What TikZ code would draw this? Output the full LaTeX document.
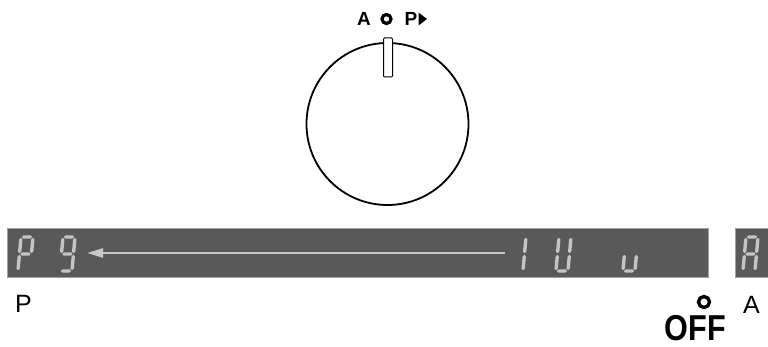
\documentclass[tikz,border=0pt]{standalone}
\usepackage{fontspec}
\setmainfont{Liberation Sans}
\usetikzlibrary{arrows.meta, positioning}
\definecolor{panelgray}{HTML}{595959}
\definecolor{seggray}{HTML}{C4C4C4}
\definecolor{arrowgray}{HTML}{C8C8C8}
% one slanted segment of a seven-segment digit
\newcommand{\hseg}[3]{\fill[segment] (#1,#3) -- (#1+1.7,#3-1.7) -- (#2-1.7,#3-1.7) -- (#2,#3) -- (#2-1.7,#3+1.7) -- (#1+1.7,#3+1.7) -- cycle;}
\newcommand{\vseg}[3]{\fill[segment] (#1,#2) -- (#1+1.7,#2+1.7) -- (#1+1.7,#3-1.7) -- (#1,#3) -- (#1-1.7,#3-1.7) -- (#1-1.7,#2+1.7) -- cycle;}
\newcommand{\sga}{\hseg{0.8}{11.2}{0}}
\newcommand{\sgb}{\vseg{12}{0.8}{16.2}}
\newcommand{\sgc}{\vseg{12}{17.8}{33.2}}
\newcommand{\sgd}{\hseg{0.8}{11.2}{34}}
\newcommand{\sge}{\vseg{0}{17.8}{33.2}}
\newcommand{\sgf}{\vseg{0}{0.8}{16.2}}
\newcommand{\sgg}{\hseg{0.8}{11.2}{17}}
\newcommand{\segdigit}[3]{%
  \begin{scope}[shift={(#1,#2)}, xslant=0.09]
    \foreach \s in {#3} {\csname sg\s\endcsname}
  \end{scope}}

\begin{document}
\begin{tikzpicture}[x=1pt, y=-1pt,
  panel/.style={fill=panelgray, draw=gray!75, line width=0.8},
  segment/.style={fill=seggray},
  sidelabel/.style={font=\fontsize{25}{25}\selectfont, inner sep=0pt},
  topmark/.style={font=\bfseries\fontsize{19}{19}\selectfont, inner sep=0pt}]
  \useasboundingbox (0,0) rectangle (768,347);
  % ================================================================
  % selector knob
  % ================================================================
  \node[draw, circle, minimum size=162, line width=1.8, inner sep=0pt] (knob) at (387.5,124) {};
  \node[draw, fill=white, minimum width=9, minimum height=39, line width=1, rounded corners=1, inner sep=0pt] (slot) at (388,57.5) {};
  % positions above the knob ---------------------------------------
  \node[topmark] (markA) at (364,19) {A};
  \node[circle, draw, line width=3.2, minimum size=9, inner sep=0pt] (markO) at (386.5,19) {};
  \node[topmark] (markP) at (411,19) {P};
  \fill (418.5,12.5) -- (427,19) -- (418.5,25.5) -- cycle;
  % ================================================================
  % display panels
  % ================================================================
  \path[panel] (7,228) rectangle (708,277);
  \path[panel] (735,228) rectangle (770,277);
  % digits ---------------------------------------------------------
  \segdigit{21}{237}{a,b,f,g,e}
  \segdigit{63}{237}{a,b,c,d,f,g}
  \segdigit{514}{237}{b,c}
  \segdigit{559}{237}{b,c,d,e,f}
  \segdigit{626}{237}{c,d,e}
  \segdigit{746}{237}{a,b,c,e,f,g}
  % scroll arrow ---------------------------------------------------
  \coordinate (arrowstart) at (505,253);
  \coordinate (arrowtip) at (87,253);
  \draw[arrowgray, line width=2.5, -{Triangle[length=16pt, width=9pt]}] (arrowstart) -- (arrowtip);
  % ================================================================
  % labels below
  % ================================================================
  \node[sidelabel] (labelP) at (23.5,304) {P};
  \node[sidelabel] (labelA) at (751.5,305) {A};
  \node[circle, draw, line width=3.4, minimum size=11, inner sep=0pt] (offring) at (704,302) {};
  \node[font=\bfseries\fontsize{36}{36}\selectfont, inner sep=0pt, xscale=0.85] (labelOFF) at (695.5,328) {OFF};
\end{tikzpicture}
\end{document}
